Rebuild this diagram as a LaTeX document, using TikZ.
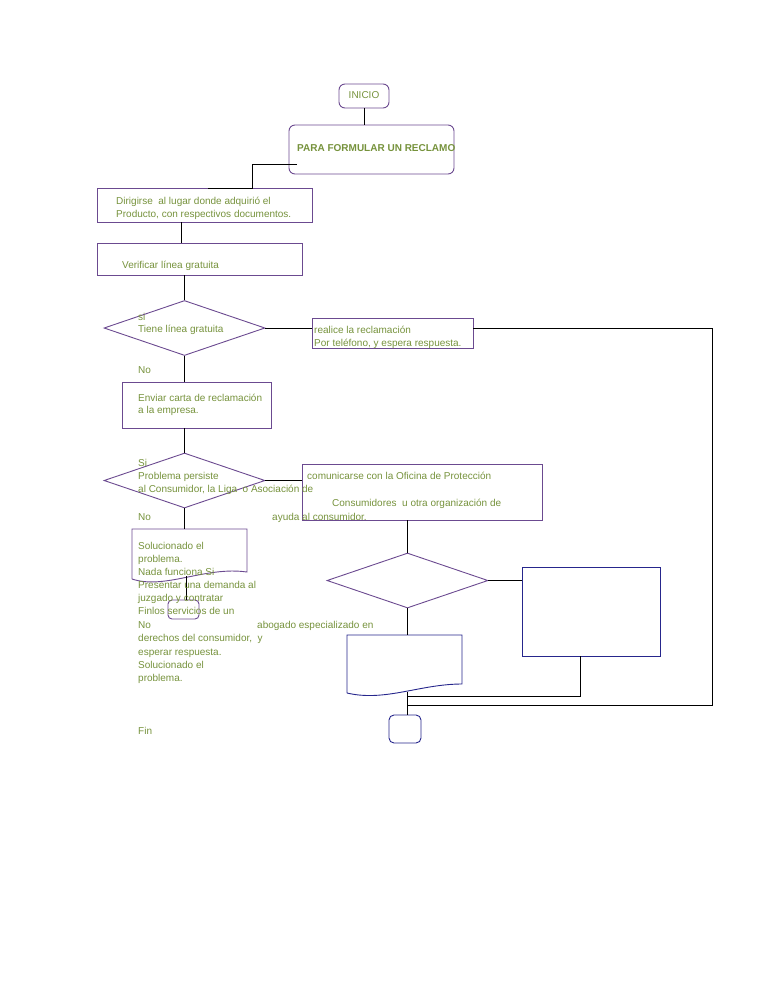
\documentclass[tikz,border=0pt]{standalone}
\usepackage{fontspec}
\setmainfont{Liberation Sans}
\usetikzlibrary{shapes.geometric}
\definecolor{pborder}{HTML}{6B4A90}
\definecolor{navyb}{HTML}{26268C}
\definecolor{gtext}{HTML}{76923C}
\begin{document}
\begin{tikzpicture}[x=1pt,y=-1pt,
  box/.style={draw=pborder, line width=0.9pt, rectangle, inner sep=0pt},
  rbox/.style={box, rounded corners=6pt},
  dia/.style={draw=pborder, line width=0.9pt, diamond, inner sep=0pt, minimum width=161pt, minimum height=55pt},
  nbox/.style={draw=navyb, line width=0.9pt, rectangle, inner sep=0pt},
  txt/.style={anchor=base west, inner sep=0pt, text=gtext, font=\fontsize{10}{12}\selectfont},
  conn/.style={draw=black, line width=0.9pt}]
\useasboundingbox (0,0) rectangle (768,994);

% boxes
\node[rbox, minimum width=50pt, minimum height=24pt] (inicio) at (364,96) {};
\node[rbox, minimum width=165pt, minimum height=49pt] (para) at (371.5,149.5) {};
\node[box, minimum width=215pt, minimum height=34pt] (dirig) at (204.5,205) {};
\node[box, minimum width=205pt, minimum height=32pt] (verif) at (199.5,259) {};
\node[dia] (d1) at (184.5,328) {};
\node[box, minimum width=161pt, minimum height=30pt] (realice) at (392.5,333) {};
\node[box, minimum width=149pt, minimum height=46pt] (enviar) at (196.5,405) {};
\node[dia] (d2) at (184.5,480.5) {};
\node[box, minimum width=240pt, minimum height=56pt] (comun) at (422,492) {};
\node[dia] (d3) at (407.5,580.5) {};
\node[nbox, minimum width=138pt, minimum height=89pt] (rect3) at (591,611.5) {};
\node[nbox, rounded corners=5pt, minimum width=32pt, minimum height=28pt] (fin) at (405,729) {};
\node[box, rounded corners=4pt, minimum width=31pt, minimum height=19pt] (small) at (183.5,609.5) {};

% document shapes
\coordinate (doc1top) at (186,529);
\coordinate (doc1bot) at (186,576);
\draw[draw=pborder, line width=0.9pt] (132,579) -- (132,529) -- (247,529) -- (247,572)
  .. controls (205,566) and (165,590) .. (132,579);
\coordinate (doc2top) at (407.5,635);
\coordinate (doc2bot) at (407,692);
\draw[draw=navyb, line width=0.9pt] (347,693) -- (347,635) -- (462,635) -- (462,684)
  .. controls (420,684) and (385,702) .. (347,693);

% helper coordinates
\coordinate (p1) at (297,164);
\coordinate (p2) at (252,188);
\coordinate (p3) at (208,188);
\coordinate (x181) at (181,0);
\coordinate (x580) at (580,0);
\coordinate (rr) at (712,705);
\coordinate (join2) at (407,705);
\coordinate (join1) at (407,696);

% connectors
\draw[conn] (inicio.south) -- (inicio.south |- para.north);
\draw[conn] (p1) -| (p2) -- (p3);
\draw[conn] (dirig.south -| x181) -- (verif.north -| x181);
\draw[conn] (verif.south -| d1.north) -- (d1.north);
\draw[conn] (d1.east) -- (d1.east -| realice.west);
\draw[conn] (d1.east -| realice.east) -| (rr) -- (join2);
\draw[conn] (d1.south) -- (d1.south |- enviar.north);
\draw[conn] (enviar.south -| d2.north) -- (d2.north);
\draw[conn] (d2.east) -- (d2.east -| comun.west);
\draw[conn] (comun.south -| d3.north) -- (d3.north);
\draw[conn] (d3.east) -- (d3.east -| rect3.west);
\draw[conn] (rect3.south -| x580) -- (x580 |- join1) -- (join1);
\draw[conn] (d3.south) -- (doc2top);
\draw[conn] (doc2bot) -- (doc2bot |- fin.north);
\draw[conn] (d2.south) -- (d2.south |- doc1top);
\draw[conn] (doc1bot) -- (doc1bot |- small.north);

% texts
\node[txt, anchor=base] (tinicio) at (364,98) {INICIO};
\node[txt] (tpara) at (297,151) {\bfseries PARA FORMULAR UN RECLAMO};
\node[txt] (tdir1) at (116,204) {Dirigirse\ \ al lugar donde adquirió el};
\node[txt] (tdir2) at (116,217) {Producto, con respectivos documentos.};
\node[txt] (tver) at (122,268) {Verificar línea gratuita};
\node[txt] (tsi) at (138,320) {si};
\node[txt] (ttiene) at (138,332) {Tiene línea gratuita};
\node[txt] (treal1) at (314,333) {realice la reclamación};
\node[txt] (treal2) at (314,346) {Por teléfono, y espera respuesta.};
\node[txt] (tno1) at (138,373) {No};
\node[txt] (tenv1) at (138,401) {Enviar carta de reclamación};
\node[txt] (tenv2) at (138,413) {a la empresa.};
\node[txt] (tsi2) at (138,466) {Si};
\node[txt] (tprob) at (138,479) {Problema persiste};
\node[txt] (tcom1) at (307,479) {comunicarse con la Oficina de Protección};
\node[txt] (tal) at (138,492) {al Consumidor, la Liga\ \ o Asociación de};
\node[txt] (tcom2) at (332,506) {Consumidores\ \ u otra organización de};
\node[txt] (tno2) at (138,520) {No};
\node[txt] (tayu) at (272,520) {ayuda al consumidor.};
\node[txt] (l1) at (138,549) {Solucionado el};
\node[txt] (l2) at (138,562) {problema.};
\node[txt] (l3) at (138,575) {Nada funciona Si};
\node[txt] (l4) at (138,588) {Presentar una demanda al};
\node[txt] (l5) at (138,601) {juzgado y contratar};
\node[txt] (l6) at (138,614) {Finlos servicios de un};
\node[txt] (l7) at (138,628) {No};
\node[txt] (l7b) at (257,628) {abogado especializado en};
\node[txt] (l8) at (138,641) {derechos del consumidor,\ \ y};
\node[txt] (l9) at (138,655) {esperar respuesta.};
\node[txt] (l10) at (138,668) {Solucionado el};
\node[txt] (l11) at (138,681) {problema.};
\node[txt] (lfin) at (138,734) {Fin};
\end{tikzpicture}
\end{document}
